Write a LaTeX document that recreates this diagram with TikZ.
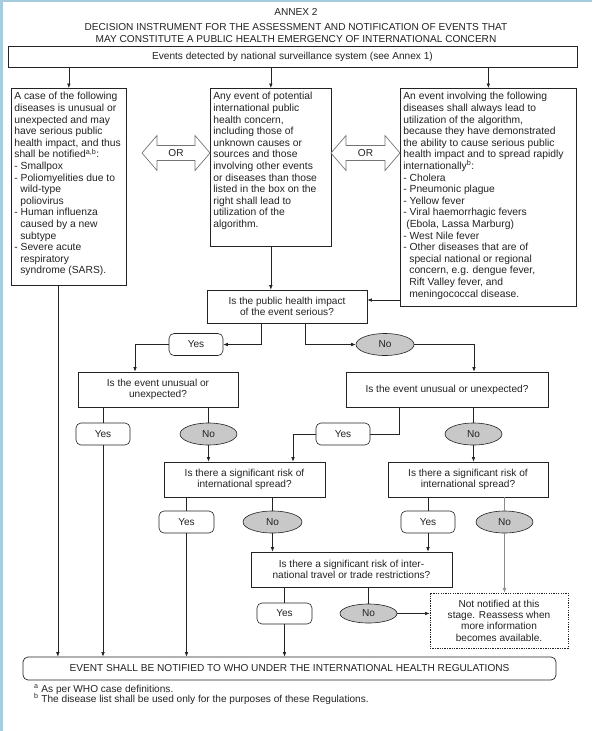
\documentclass[tikz,border=0pt]{standalone}
\usepackage{fontspec}
\setmainfont{Liberation Sans}
\usetikzlibrary{arrows.meta,shapes.geometric,calc}
\definecolor{frameblue}{RGB}{165,205,222}
\definecolor{ink}{RGB}{35,35,35}
\definecolor{nofill}{RGB}{200,200,200}
\newcommand\contind{\hspace*{6pt}}
\newcommand\bodyfont{\fontsize{10.3}{11.6}\selectfont}
\begin{document}
\begin{tikzpicture}[x=1pt,y=-1pt,
  every node/.style={text=ink, font=\fontsize{10.1}{11.3}\selectfont},
  plainbox/.style={draw=ink, line width=0.7pt, fill=white, inner sep=0pt},
  decbox/.style={draw=ink, line width=0.7pt, fill=white, align=center, inner sep=0pt},
  yesbox/.style={draw=ink, line width=0.6pt, rounded corners=5pt, fill=white, minimum width=54pt, minimum height=22pt, inner sep=0pt},
  nobox/.style={ellipse, draw=ink, line width=0.6pt, fill=nofill, minimum width=57pt, minimum height=22pt, inner sep=0pt},
  conn/.style={draw=ink, line width=0.6pt},
  arr/.style={conn, -{Latex[length=4.5pt,width=3.6pt]}},
  grayconn/.style={draw=black!45, line width=0.6pt},
  orarrow/.style={draw=black!55, fill=white, line width=0.7pt}
]
\fill[white] (0,0) rectangle (592,731);
\fill[frameblue] (0,0) rectangle (3,731);
\fill[frameblue] (0,0) rectangle (592,1.5);
\useasboundingbox (0,0) rectangle (592,731);

% titles
\node (t1) at (296,12) {ANNEX 2};
\node (t2) at (296,27.5) {DECISION INSTRUMENT FOR THE ASSESSMENT AND NOTIFICATION OF EVENTS THAT};
\node (t3) at (296,39.5) {MAY CONSTITUTE A PUBLIC HEALTH EMERGENCY OF INTERNATIONAL CONCERN};

\node[decbox, minimum width=569pt, minimum height=21pt] (top) at (292.5,56.5) {Events detected by national surveillance system (see Annex 1)};

% three boxes
\node[plainbox, anchor=north west] (lbox) at (11,88) {\parbox[c][197pt][t]{115pt}{\bodyfont\vspace*{4pt}\raggedright\leftskip=3pt
A case of the following\\
diseases is unusual or\\
unexpected and may\\
have serious public\\
health impact, and thus\\
shall be notified\textsuperscript{a,b}:\\
- Smallpox\\
- Poliomyelities due to\\
\contind wild-type\\
\contind poliovirus\\
- Human influenza\\
\contind caused by a new\\
\contind subtype\\
- Severe acute\\
\contind respiratory\\
\contind syndrome (SARS).}};

\node[plainbox, anchor=north west] (mbox) at (210,88) {\parbox[c][158pt][t]{121pt}{\bodyfont\vspace*{4pt}\raggedright\leftskip=3pt
Any event of potential\\
international public\\
health concern,\\
including those of\\
unknown causes or\\
sources and those\\
involving other events\\
or diseases than those\\
listed in the box on the\\
right shall lead to\\
utilization of the\\
algorithm.}};

\node[plainbox, anchor=north west] (rbox) at (400,88) {\parbox[c][218pt][t]{176pt}{\bodyfont\vspace*{4pt}\raggedright\leftskip=3pt
An event involving the following\\
diseases shall always lead to\\
utilization of the algorithm,\\
because they have demonstrated\\
the ability to cause serious public\\
health impact and to spread rapidly\\
internationally\textsuperscript{b}:\\
- Cholera\\
- Pneumonic plague\\
- Yellow fever\\
- Viral haemorrhagic fevers\\
\hspace*{3pt}(Ebola, Lassa Marburg)\\
- West Nile fever\\
- Other diseases that are of\\
\contind special national or regional\\
\contind concern, e.g. dengue fever,\\
\contind Rift Valley fever, and\\
\contind meningococcal disease.}};

% OR arrows
\foreach \a/\b in {142/210, 331/400} {
  \draw[orarrow] (\a,153) -- (\a+15,135.5) -- (\a+15,145.5) -- (\b-15,145.5) -- (\b-15,135.5) -- (\b,153)
     -- (\b-15,170.5) -- (\b-15,160.5) -- (\a+15,160.5) -- (\a+15,170.5) -- cycle;
}
\node (or1) at (176,153) {OR};
\node (or2) at (365.5,153) {OR};

% decisions
\node[decbox, minimum width=160pt, minimum height=33pt] (dec1) at (287,306.5) {Is the public health impact\\of the event serious?};
\node[yesbox] (yes1) at (196,344.5) {Yes};
\node[nobox, minimum width=58pt] (no1) at (385,344.5) {No};

\node[decbox, minimum width=160pt, minimum height=35pt] (dec2) at (158,389.5) {Is the event unusual or\\unexpected?};
\node[decbox, minimum width=202pt, minimum height=35pt] (dec3) at (447,389.5) {Is the event unusual or unexpected?};

\node[yesbox] (yes2) at (103,434) {Yes};
\node[nobox] (no2) at (208.5,434) {No};
\node[yesbox] (yes3) at (343,434) {Yes};
\node[nobox] (no3) at (473.5,434) {No};

\node[decbox, minimum width=161pt, minimum height=35pt] (dec4) at (244.5,479.5) {Is there a significant risk of\\international spread?};
\node[decbox, minimum width=160pt, minimum height=35pt] (dec5) at (468,479.5) {Is there a significant risk of\\international spread?};

\node[yesbox, minimum width=55pt] (yes4) at (186.5,522) {Yes};
\node[nobox, minimum width=59pt] (no4) at (272.5,522) {No};
\node[yesbox] (yes5) at (428,522) {Yes};
\node[nobox] (no5) at (504.5,522) {No};

\node[decbox, minimum width=201pt, minimum height=35pt] (dec6) at (351.5,569.5) {Is there a significant risk of inter-\\national travel or trade restrictions?};

\node[yesbox, minimum width=55pt, minimum height=21pt] (yes6) at (284.5,613.5) {Yes};
\node[nobox, minimum height=19pt] (no6) at (368.5,613.5) {No};

\node[draw=ink, line width=0.9pt, dash pattern=on 1.3pt off 1.1pt, fill=white, minimum width=138pt, minimum height=55pt, align=center, inner sep=0pt] (nn) at (499,620.5) {Not notified at this\\stage. Reassess when\\more information\\becomes available.};

\node[draw=ink, line width=0.7pt, rounded corners=5pt, fill=white, minimum width=533pt, minimum height=23pt, inner sep=0pt] (bot) at (289.5,668.5) {EVENT SHALL BE NOTIFIED TO WHO UNDER THE INTERNATIONAL HEALTH REGULATIONS};

% footnotes
\node[anchor=base west, inner sep=0pt] (fa) at (34,692) {\textsuperscript{a} As per WHO case definitions.};
\node[anchor=base west, inner sep=0pt] (fb) at (34,702) {\textsuperscript{b} The disease list shall be used only for the purposes of these Regulations.};

% connectors
\draw[arr] (top.south -| lbox.north) -- (lbox.north);
\draw[arr] (top.south -| mbox.north) -- (mbox.north);
\draw[arr] (top.south -| rbox.north) -- (rbox.north);
\draw[arr] (mbox.south) -- (mbox.south |- dec1.north);
\coordinate (d1in) at ([yshift=6.5pt]dec1.east);
\draw[arr] (rbox.west |- d1in) -- (d1in);
\draw[arr] ([xshift=-26pt]dec1.south) |- (yes1.east);
\draw[arr] ([xshift=18pt]dec1.south) |- (no1.west);
\draw[arr] (yes1.west) -| ([xshift=-23pt]dec2.north);
\draw[arr] (no1.east) -| ([xshift=27pt]dec3.north);
\draw[conn] (dec2.south -| yes2.north) -- (yes2.north);
\draw[conn] (dec2.south -| no2.north) -- (no2.north);
\draw[conn] ([xshift=-48pt]dec3.south) |- (yes3.east);
\draw[conn] (dec3.south -| no3.north) -- (no3.north);
\draw[arr] (yes2.south) -- (yes2.south |- bot.north);
\draw[arr] (no2.south) -- (no2.south |- dec4.north);
\draw[arr] (yes3.west) -| ([xshift=48.5pt]dec4.north);
\draw[arr] (no3.south) -- (no3.south |- dec5.north);
\draw[conn] (dec4.south -| yes4.north) -- (yes4.north);
\draw[conn] (dec4.south -| no4.north) -- (no4.north);
\draw[conn] (dec5.south -| yes5.north) -- (yes5.north);
\draw[grayconn] (dec5.south -| no5.north) -- (no5.north);
\draw[arr] (yes4.south) -- (yes4.south |- bot.north);
\draw[arr] (no4.south) -- (no4.south |- dec6.north);
\draw[arr] (yes5.south) -- (yes5.south |- dec6.north);
\draw[grayconn, -{Latex[length=4.5pt,width=3.6pt]}] (no5.south) -- (no5.south |- nn.north);
\draw[conn] (dec6.south -| yes6.north) -- (yes6.north);
\draw[conn] (dec6.south -| no6.north) -- (no6.north);
\draw[arr] (yes6.south) -- (yes6.south |- bot.north);
\draw[arr] (no6.east) -- (nn.west |- no6.east);
\draw[arr] ([xshift=-11pt]lbox.south) -- ([xshift=-11pt]lbox.south |- bot.north);
\end{tikzpicture}
\end{document}
